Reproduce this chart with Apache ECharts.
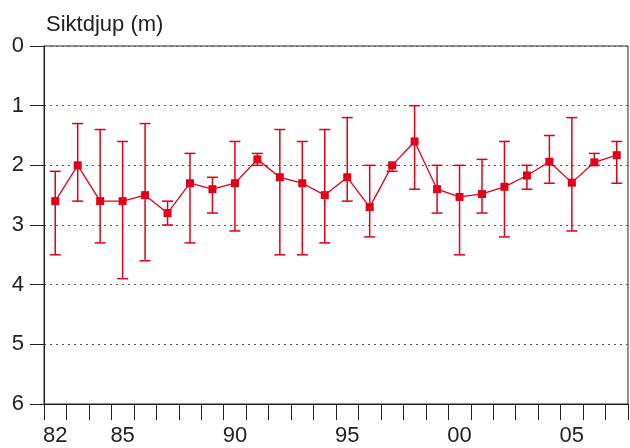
<!DOCTYPE html>
<html><head><meta charset="utf-8">
<script src="https://cdn.jsdelivr.net/npm/echarts@6/dist/echarts.min.js"></script>
<style>html,body{margin:0;padding:0;background:#fff}#c{width:630px;height:448px}</style>
</head><body><div id="c"></div>
<script>
const years = [1982,1983,1984,1985,1986,1987,1988,1989,1990,1991,1992,1993,1994,1995,1996,1997,1998,1999,2000,2001,2002,2003,2004,2005,2006,2007];
const meanDepth = [2.6,2.0,2.6,2.6,2.5,2.8,2.3,2.4,2.3,1.9,2.2,2.3,2.5,2.2,2.7,2.0,1.6,2.4,2.53,2.48,2.36,2.17,1.94,2.29,1.95,1.83];
const minDepth  = [2.1,1.3,1.4,1.6,1.3,2.6,1.8,2.2,1.6,1.8,1.4,1.6,1.4,1.2,2.0,2.0,1.0,2.0,2.0,1.9,1.6,2.0,1.5,1.2,1.8,1.6];
const maxDepth  = [3.5,2.6,3.3,3.9,3.6,3.0,3.3,2.8,3.1,2.0,3.5,3.5,3.3,2.6,3.2,2.1,2.4,2.8,3.5,2.8,3.2,2.4,2.3,3.1,2.0,2.3];
const shownYears = [1982,1985,1990,1995,2000,2005];
const titleText = 'Siktdjup (m)';

const RED = '#e2001a';
const FONT = 'Liberation Sans';
const cats = years.map(String);
const errData = years.map((y,i)=>[i, minDepth[i], maxDepth[i]]);

const chart = echarts.init(document.getElementById('c'), null, {renderer:'canvas'});
chart.setOption({
  animation:false,
  title:{text:titleText,left:41,top:9,textStyle:{fontFamily:FONT,fontSize:22,fontWeight:'normal',color:'#222'}},
  grid:{left:44,right:2,top:46,bottom:44,show:true,borderColor:'#222',borderWidth:1},
  xAxis:{type:'category',data:cats,boundaryGap:true,position:'bottom',
    axisLine:{onZero:false,lineStyle:{color:'#222',width:1}},
    axisTick:{show:true,interval:0,length:16,lineStyle:{color:'#222'}},
    axisLabel:{interval:(idx,val)=>shownYears.includes(+val),formatter:v=>String(v).slice(2),
      fontFamily:FONT,fontSize:22,color:'#222',margin:21},
    splitLine:{show:false}},
  yAxis:{type:'value',min:0,max:6,interval:1,inverse:true,
    axisLine:{show:true,lineStyle:{color:'#222',width:1}},
    axisTick:{show:true,length:14,lineStyle:{color:'#222'}},
    axisLabel:{fontFamily:FONT,fontSize:22,color:'#222',margin:20},
    splitLine:{show:true,lineStyle:{color:'#555',type:[2,4],width:1}}},
  series:[
    {type:'custom',data:errData,z:2,
      renderItem:(params,api)=>{
        const x=api.value(0);
        const top=api.coord([x,api.value(1)]);
        const bot=api.coord([x,api.value(2)]);
        const hw=5.5;
        const st={stroke:RED,lineWidth:1.5,fill:null};
        return {type:'group',children:[
          {type:'line',shape:{x1:top[0],y1:top[1],x2:bot[0],y2:bot[1]},style:st},
          {type:'line',shape:{x1:top[0]-hw,y1:top[1],x2:top[0]+hw,y2:top[1]},style:st},
          {type:'line',shape:{x1:bot[0]-hw,y1:bot[1],x2:bot[0]+hw,y2:bot[1]},style:st}
        ]};
      }},
    {type:'line',data:meanDepth,z:3,symbol:'rect',symbolSize:8,
      lineStyle:{color:RED,width:1.3},itemStyle:{color:RED}}
  ]
});
</script></body></html>
